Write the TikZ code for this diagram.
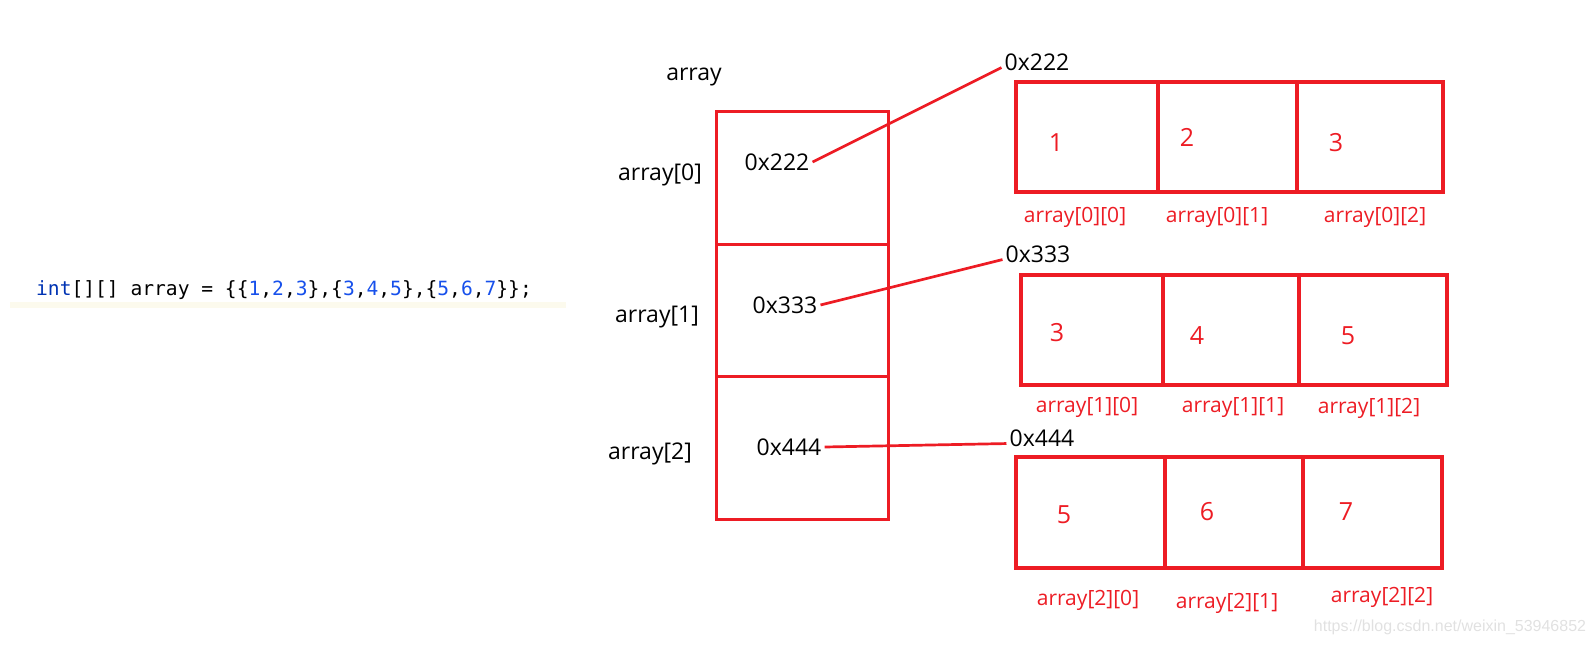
\documentclass[tikz,border=0pt]{standalone}
\usepackage{fontspec}
\setmainfont{Open Sans}
\setmonofont{DejaVu Sans Mono}
\newfontfamily\markfont{Liberation Sans}
\begin{document}
\definecolor{paintred}{RGB}{237,28,36}
\definecolor{kwblue}{RGB}{0,51,179}
\definecolor{numblue}{RGB}{23,80,235}
\definecolor{lineband}{RGB}{252,250,237}
\definecolor{markgray}{RGB}{225,225,225}
\begin{tikzpicture}[x=1pt,y=-1pt,
  cell/.style={draw=paintred,line width=3.5pt,rectangle,inner sep=0pt},
  ptrcell/.style={draw=paintred,line width=3pt,rectangle,inner sep=0pt,minimum width=172pt},
  blacklbl/.style={font=\fontsize{23}{28}\selectfont,text=black,inner sep=0pt},
  addr/.style={font=\fontsize{23}{28}\selectfont,text=black,inner sep=3pt},
  val/.style={font=\fontsize{25}{30}\selectfont,text=paintred,inner sep=0pt},
  idx/.style={font=\fontsize{21}{26}\selectfont,text=paintred,inner sep=0pt},
  link/.style={draw=paintred,line width=2.7pt}]
\useasboundingbox (0,0) rectangle (1595,645);

% source line
\fill[lineband] (10,302) rectangle (566,308);
\node[anchor=base west,inner sep=0pt,font=\ttfamily\fontsize{19.6}{24}\selectfont] (code) at (36,295)
  {\textcolor{kwblue}{int}[][] array = \{\{\textcolor{numblue}{1},\textcolor{numblue}{2},\textcolor{numblue}{3}\},\{\textcolor{numblue}{3},\textcolor{numblue}{4},\textcolor{numblue}{5}\},\{\textcolor{numblue}{5},\textcolor{numblue}{6},\textcolor{numblue}{7}\}\};};

% pointer array
\node[blacklbl] (arr) at (694,77) {array};
\node[ptrcell,minimum height=133pt] (r0) at (802,177.5) {};
\node[ptrcell,minimum height=132pt] (r1) at (802,310) {};
\node[ptrcell,minimum height=143pt] (r2) at (802,447.5) {};
\node[blacklbl] (l0) at (660,175) {array[0]};
\node[blacklbl] (l1) at (657,317) {array[1]};
\node[blacklbl] (l2) at (650,454) {array[2]};
\node[addr] (a0) at (777,162) {0x222};
\node[addr] (a1) at (785,305) {0x333};
\node[addr] (a2) at (789,447) {0x444};

% row 0
\node[addr] (p0) at (1037,62) {0x222};
\node[cell,minimum width=142pt,minimum height=110pt] (c00) at (1087,137) {};
\node[cell,minimum width=139pt,minimum height=110pt] (c01) at (1227.5,137) {};
\node[cell,minimum width=146pt,minimum height=110pt] (c02) at (1370,137) {};
\node[val] (v00) at (1056,143) {1};
\node[val] (v01) at (1187,137) {2};
\node[val] (v02) at (1336,143) {3};
\node[idx] (i00) at (1075,217) {array[0][0]};
\node[idx] (i01) at (1217,217) {array[0][1]};
\node[idx] (i02) at (1375,217) {array[0][2]};

% row 1
\node[addr] (p1) at (1038,254) {0x333};
\node[cell,minimum width=142pt,minimum height=110pt] (c10) at (1092,330) {};
\node[cell,minimum width=136pt,minimum height=110pt] (c11) at (1231,330) {};
\node[cell,minimum width=148pt,minimum height=110pt] (c12) at (1373,330) {};
\node[val] (v10) at (1057,333) {3};
\node[val] (v11) at (1197,336) {4};
\node[val] (v12) at (1348,336) {5};
\node[idx] (i10) at (1087,407) {array[1][0]};
\node[idx] (i11) at (1233,408) {array[1][1]};
\node[idx] (i12) at (1369,408) {array[1][2]};

% row 2
\node[addr] (p2) at (1042,438) {0x444};
\node[cell,minimum width=149pt,minimum height=111pt] (c20) at (1090.5,512.5) {};
\node[cell,minimum width=138pt,minimum height=111pt] (c21) at (1234,512.5) {};
\node[cell,minimum width=139pt,minimum height=111pt] (c22) at (1372.5,512.5) {};
\node[val] (v20) at (1064,515) {5};
\node[val] (v21) at (1207,512) {6};
\node[val] (v22) at (1346,512) {7};
\node[idx] (i20) at (1088,600) {array[2][0]};
\node[idx] (i21) at (1227,603) {array[2][1]};
\node[idx] (i22) at (1382,597) {array[2][2]};

% references from the pointer cells to the rows
\draw[link] (a0.east) -- (p0.mid west);
\draw[link] (a1.east) -- (p1.mid west);
\draw[link] (a2.east) -- (p2.mid west);

% watermark
\node[font=\markfont\fontsize{16}{19}\selectfont,text=markgray,inner sep=0pt] (wm) at (1450,627) {https://blog.csdn.net/weixin\_53946852};
\end{tikzpicture}
\end{document}
